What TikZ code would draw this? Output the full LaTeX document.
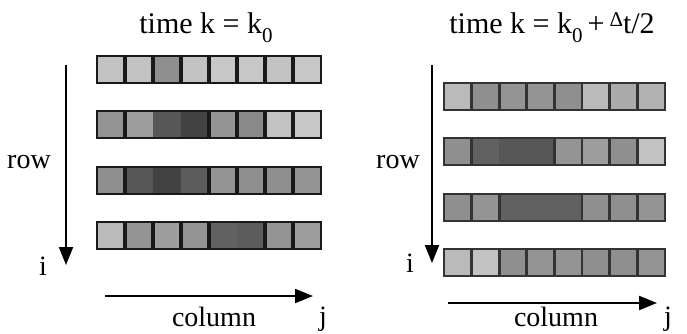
\documentclass[tikz,border=0pt]{standalone}
\usepackage{fontspec}
\setmainfont{Liberation Serif}
\usetikzlibrary{arrows.meta}
\tikzset{
  cellbox/.style={draw=none, minimum height=27pt, inner sep=0pt, outer sep=0pt, anchor=north west},
  rowframe/.style={fill=none, minimum height=27pt, inner sep=0pt, outer sep=0pt, anchor=north west},
  axis/.style={line width=2.2pt, -{Triangle[length=18pt,width=14pt]}},
  lbl/.style={font=\fontsize{28}{32}\selectfont, inner sep=0pt, anchor=base},
  ttl/.style={font=\fontsize{30}{34}\selectfont, inner sep=0pt, anchor=base},
}
% #1 name, #2 x0, #3 y0, #4 cell width, #5 darkness list, #6 separators, #7 line colour, #8 line width
\newcommand\cellrow[8]{%
  \foreach \d [count=\k from 0] in {#5} {
    \node[cellbox, minimum width=#4pt, fill=black!\d] (#1c\k) at (#2+\k*#4, #3) {};
  }
  \foreach \s in {#6} {
    \draw[draw=#7, line width=#8+0.6pt] (#1c\s.north west) -- (#1c\s.south west);
  }
  \node[rowframe, minimum width=8*#4pt, draw=#7, line width=#8] (#1) at (#2,#3) {};
}
\newcommand\subz{\raisebox{-0.3em}{\fontsize{21}{21}\selectfont 0}}
\begin{document}
\begin{tikzpicture}[x=1pt,y=-1pt]
\useasboundingbox (0,0) rectangle (687,333);
% left panel
\node[ttl] (tl) at (206,33) {time k = k\subz};
\cellrow{La}{97}{56}{28}{24,24,44,24,22,22,24,22}{1,2,3,4,5,6,7}{black!90}{2.8pt}
\cellrow{Lb}{97}{111}{28}{42,38,66,74,42,46,24,22}{1,4,5,6,7}{black!90}{2.8pt}
\cellrow{Lc}{97}{167}{28}{44,66,74,64,42,44,44,42}{1,4,5,6,7}{black!90}{2.8pt}
\cellrow{Ld}{97}{222}{28}{27,42,38,42,62,64,42,38}{1,2,3,4,6,7}{black!90}{2.8pt}
\coordinate (lv0) at (66,65);
\coordinate (lv1) at (66,265);
\draw[axis] (lv0) -- (lv1);
\coordinate (lh0) at (105,296);
\coordinate (lh1) at (313,296);
\draw[axis] (lh0) -- (lh1);
\node[lbl] (lrow) at (29,168) {row};
\node[lbl] (li) at (43,275) {i};
\node[lbl] (lcol) at (214,326) {column};
\node[lbl] (lj) at (323,325) {j};
% right panel
\node[ttl] (tr) at (552,33) {time k = k\subz\,+\,\raisebox{7pt}{\fontsize{21}{21}\selectfont Δ}t/2};
\cellrow{Ra}{444}{83}{27.6}{27,44,42,42,44,27,33,30}{1,2,3,4,5,6,7}{black!80}{2.2pt}
\cellrow{Rb}{444}{138}{27.6}{44,62,66,66,42,38,44,24}{1,4,5,6,7}{black!80}{2.2pt}
\cellrow{Rc}{444}{194}{27.6}{44,42,62,62,62,44,44,42}{1,2,5,6,7}{black!80}{2.2pt}
\cellrow{Rd}{444}{249}{27.6}{27,24,44,42,42,44,44,42}{1,2,3,4,5,6,7}{black!80}{2.2pt}
\coordinate (rv0) at (432,65);
\coordinate (rv1) at (432,263);
\draw[axis] (rv0) -- (rv1);
\coordinate (rh0) at (448,303);
\coordinate (rh1) at (657,303);
\draw[axis] (rh0) -- (rh1);
\node[lbl] (rrow) at (398,168) {row};
\node[lbl] (ri) at (410,272) {i};
\node[lbl] (rcol) at (556,326) {column};
\node[lbl] (rj) at (668,325) {j};
\end{tikzpicture}
\end{document}
